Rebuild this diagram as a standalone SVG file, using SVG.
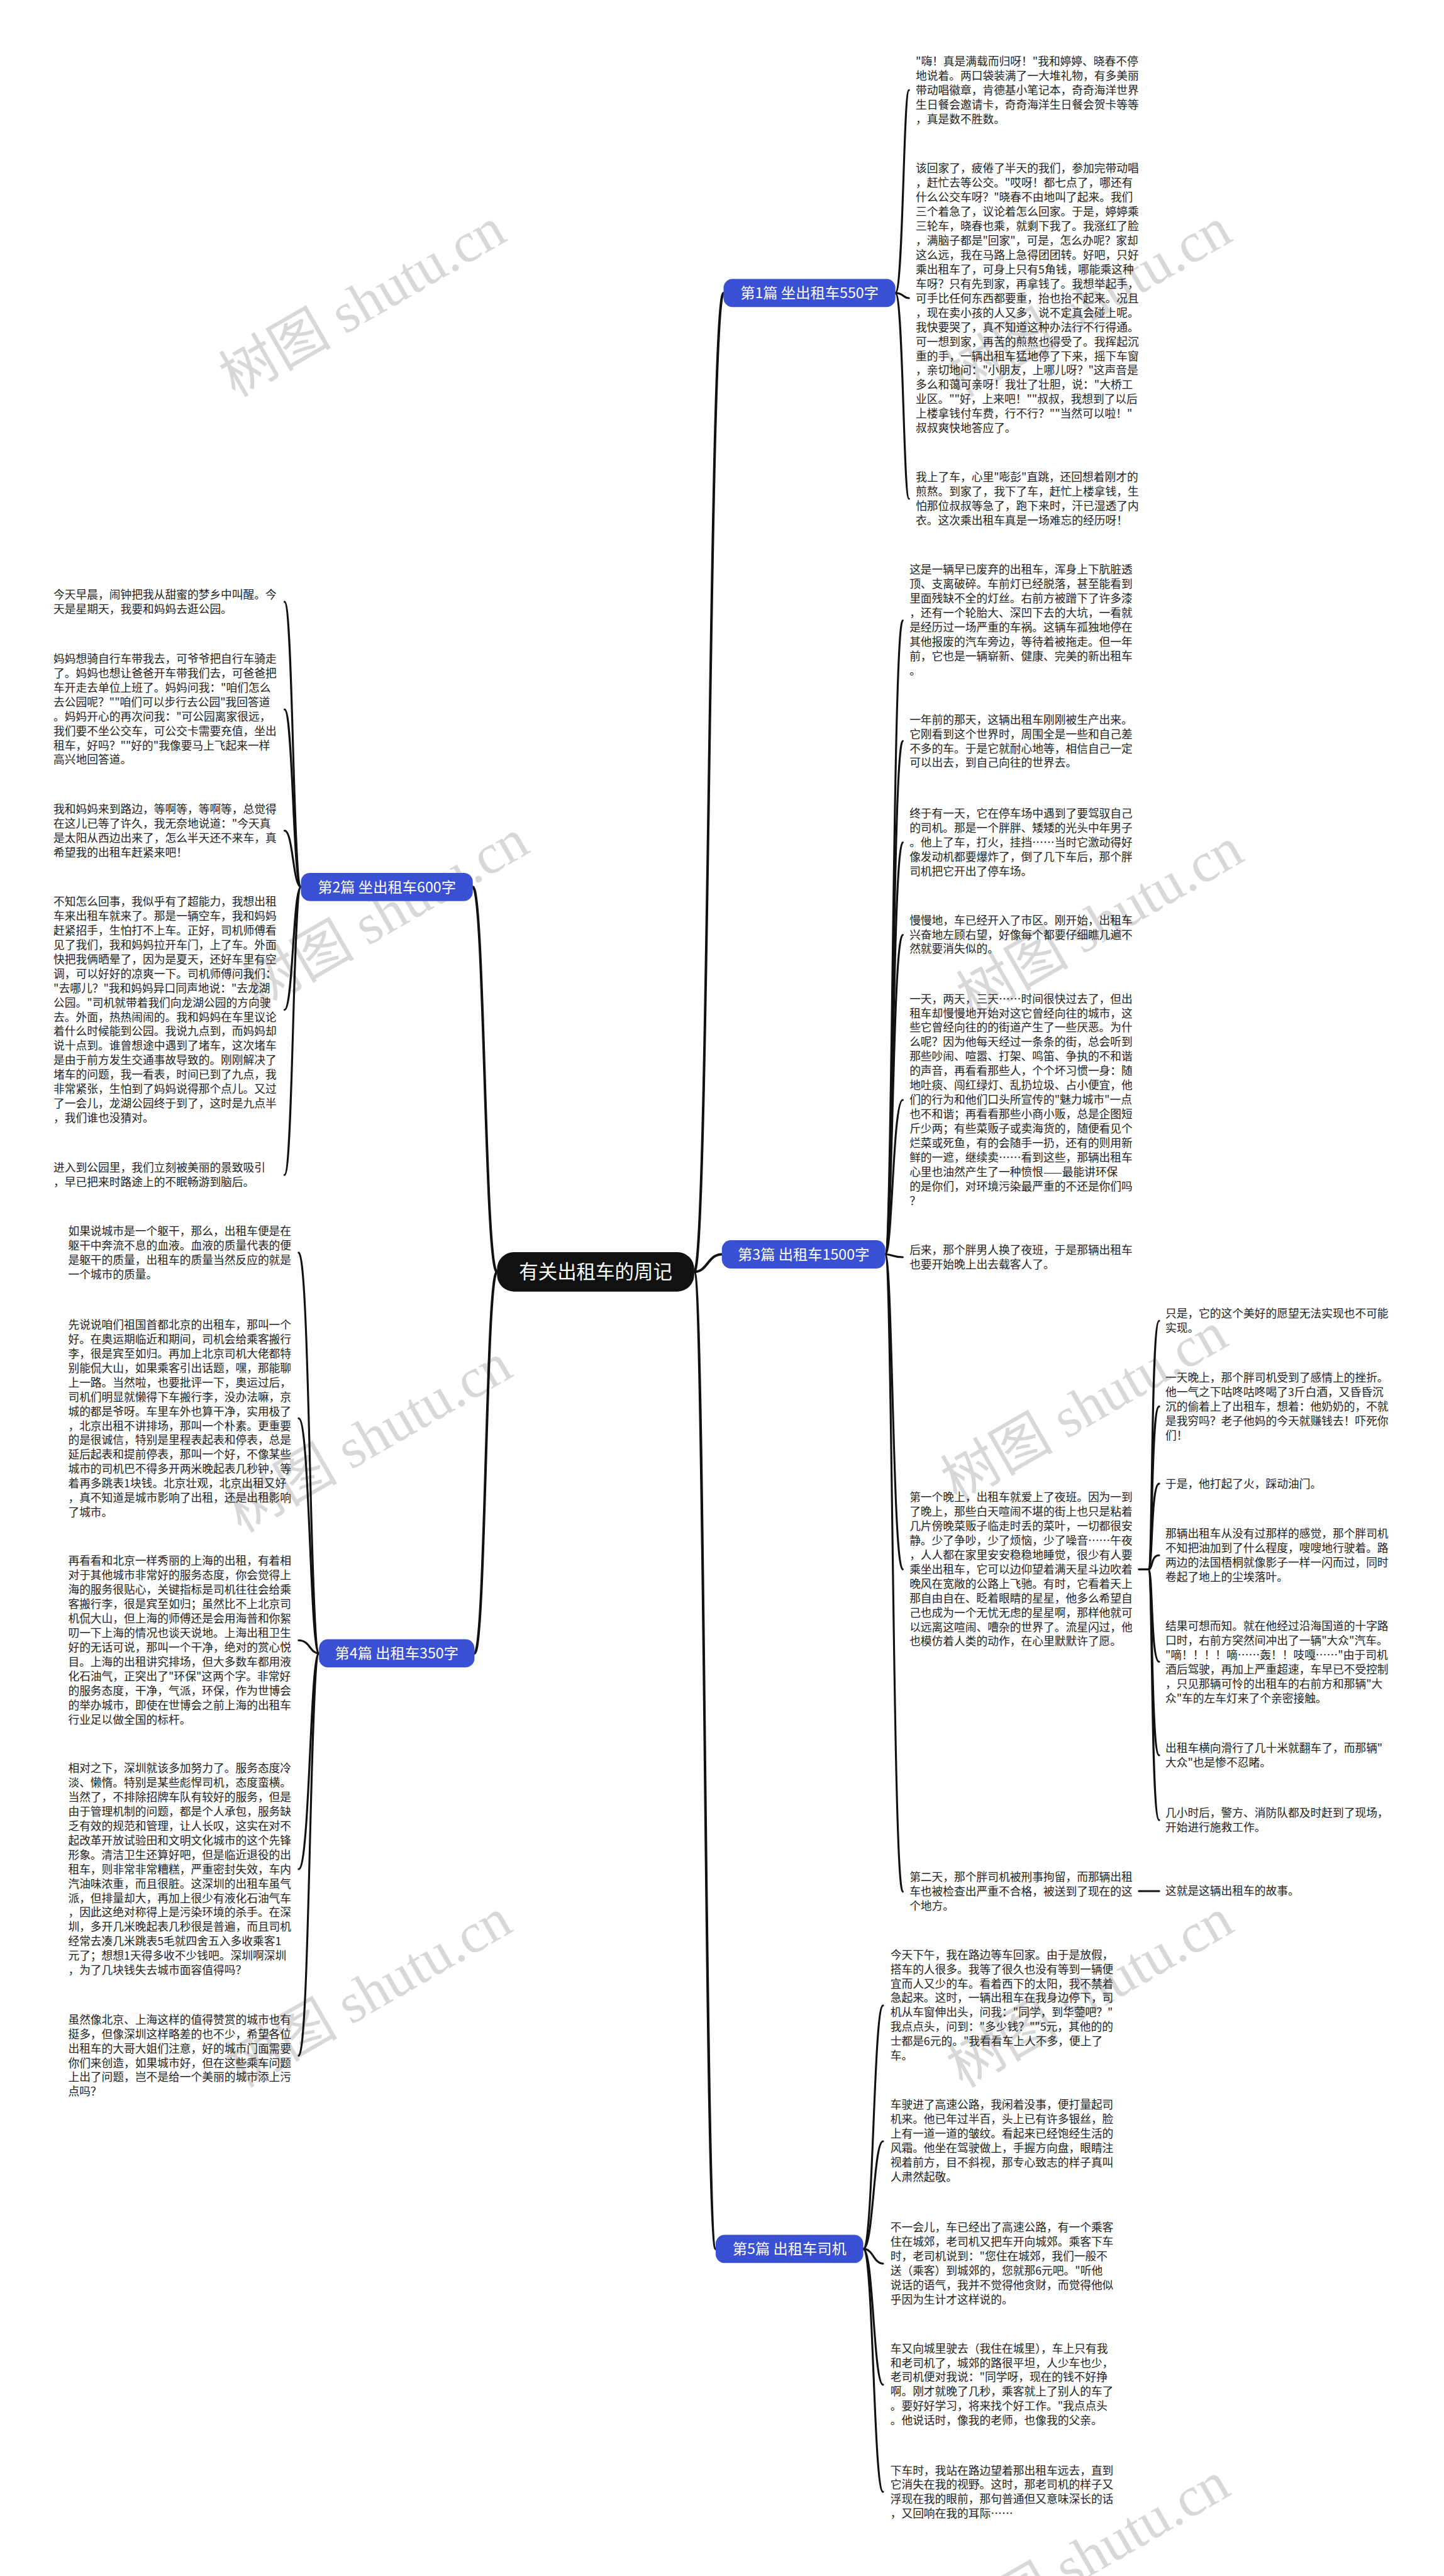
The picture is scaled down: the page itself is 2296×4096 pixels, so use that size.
<svg xmlns="http://www.w3.org/2000/svg" width="2296" height="4096" viewBox="0 0 2296 4096">
<style>
.t{font-family:"Noto Sans CJK SC","Liberation Sans",sans-serif;font-size:19.8px;fill:#222}
.c{fill:none;stroke:#111;stroke-width:3.5;stroke-linecap:round}
.m{stroke-width:4.5}
.bn{fill:#3a50d4}
.bt{font-family:"Noto Sans CJK SC","Liberation Sans",sans-serif;font-size:26px;fill:#fff;text-anchor:middle}
.ct{font-family:"Noto Sans CJK SC","Liberation Sans",sans-serif;font-size:34px;fill:#fff;text-anchor:middle}
.wm{font-family:"Liberation Serif","Noto Sans CJK SC",serif;font-size:100px;fill:#d8d8d8;text-anchor:middle}
</style>
<rect width="2296" height="4096" fill="#fff"/>
<g transform="scale(0.896)">
<g id="watermarks">
<text class="wm" x="645" y="570" transform="rotate(-30 645 540)">树图 shutu.cn</text>
<text class="wm" x="686" y="1655" transform="rotate(-30 686 1625)">树图 shutu.cn</text>
<text class="wm" x="656" y="2585" transform="rotate(-30 656 2555)">树图 shutu.cn</text>
<text class="wm" x="656" y="3570" transform="rotate(-30 656 3540)">树图 shutu.cn</text>
<text class="wm" x="1933" y="570" transform="rotate(-30 1933 540)">树图 shutu.cn</text>
<text class="wm" x="1954" y="1670" transform="rotate(-30 1954 1640)">树图 shutu.cn</text>
<text class="wm" x="1926" y="2530" transform="rotate(-30 1926 2500)">树图 shutu.cn</text>
<text class="wm" x="1936" y="3570" transform="rotate(-30 1936 3540)">树图 shutu.cn</text>
<text class="wm" x="1930" y="4570" transform="rotate(-30 1930 4540)">树图 shutu.cn</text>
</g>
<g id="connectors">
<path class="c m" d="M1232,2257 C1258,2257 1258,520 1284,520"/>
<path class="c m" d="M1232,2257 C1256,2257 1256,2226 1281,2226"/>
<path class="c m" d="M1232,2257 C1251,2257 1251,3991 1270,3991"/>
<path class="c m" d="M882,2257 C860,2257 860,1574 839,1574"/>
<path class="c m" d="M882,2257 C862,2257 862,2934 842,2934"/>
<path class="c" d="M1589,520 C1603,520 1603,160 1613,160"/>
<path class="c" d="M1589,520 C1603,520 1603,529 1613,529"/>
<path class="c" d="M1589,520 C1603,520 1603,885 1613,885"/>
<path class="c" d="M534,1574 C520,1574 520,1068 505,1068"/>
<path class="c" d="M534,1574 C520,1574 520,1259 505,1259"/>
<path class="c" d="M534,1574 C520,1574 520,1474 505,1474"/>
<path class="c" d="M534,1574 C520,1574 520,1792 505,1792"/>
<path class="c" d="M534,1574 C520,1574 520,2085 505,2085"/>
<path class="c" d="M1571,2226 C1584,2226 1584,1101 1602,1101"/>
<path class="c" d="M1571,2226 C1584,2226 1584,1315 1602,1315"/>
<path class="c" d="M1571,2226 C1584,2226 1584,1495 1602,1495"/>
<path class="c" d="M1571,2226 C1584,2226 1584,1659 1602,1659"/>
<path class="c" d="M1571,2226 C1584,2226 1584,1952 1602,1952"/>
<path class="c" d="M1571,2226 C1584,2226 1584,2231 1602,2231"/>
<path class="c" d="M1571,2226 C1584,2226 1584,2785 1602,2785"/>
<path class="c" d="M1571,2226 C1584,2226 1584,3357 1602,3357"/>
<path class="c" d="M2021,2785 L2038,2785"/>
<path class="c" d="M2038,2785 C2046,2785 2042,2344 2057,2344"/>
<path class="c" d="M2038,2785 C2046,2785 2042,2496 2057,2496"/>
<path class="c" d="M2038,2785 C2046,2785 2042,2633 2057,2633"/>
<path class="c" d="M2038,2785 C2046,2785 2042,2760 2057,2760"/>
<path class="c" d="M2038,2785 C2046,2785 2042,2949 2057,2949"/>
<path class="c" d="M2038,2785 C2046,2785 2042,3115 2057,3115"/>
<path class="c" d="M2038,2785 C2046,2785 2042,3230 2057,3230"/>
<path class="c" d="M2021,3356 L2057,3356"/>
<path class="c" d="M566,2934 C550,2934 550,2223 530,2223"/>
<path class="c" d="M566,2934 C550,2934 550,2517 530,2517"/>
<path class="c" d="M566,2934 C550,2934 550,2911 530,2911"/>
<path class="c" d="M566,2934 C550,2934 550,3317 530,3317"/>
<path class="c" d="M566,2934 C550,2934 550,3648 530,3648"/>
<path class="c" d="M1532,3991 C1550,3991 1550,3559 1567,3559"/>
<path class="c" d="M1532,3991 C1550,3991 1550,3800 1567,3800"/>
<path class="c" d="M1532,3991 C1550,3991 1550,4017 1567,4017"/>
<path class="c" d="M1532,3991 C1550,3991 1550,4232 1567,4232"/>
<path class="c" d="M1532,3991 C1550,3991 1550,4422 1567,4422"/>
</g>
<g id="center">
<rect x="882" y="2222" width="350" height="70" rx="30" fill="#111"/>
<text class="ct" x="1057" y="2269">有关出租车的周记</text>
</g>
<g id="b1"><rect class="bn" x="1284" y="495" width="305" height="50" rx="16"/><text class="bt" x="1436.5" y="529.5">第1篇 坐出租车550字</text></g>
<g id="b2"><rect class="bn" x="534" y="1549" width="305" height="50" rx="16"/><text class="bt" x="686.5" y="1583.5">第2篇 坐出租车600字</text></g>
<g id="b3"><rect class="bn" x="1281" y="2201" width="290" height="50" rx="16"/><text class="bt" x="1426" y="2235.5">第3篇 出租车1500字</text></g>
<g id="b4"><rect class="bn" x="566" y="2909" width="276" height="50" rx="16"/><text class="bt" x="704" y="2943.5">第4篇 出租车350字</text></g>
<g id="b5"><rect class="bn" x="1270" y="3966" width="262" height="50" rx="16"/><text class="bt" x="1401" y="4000.5">第5篇 出租车司机</text></g>

<g id="b1a"><text class="t" x="1625" y="116.2"><tspan x="1625">"嗨！真是满载而归呀！"我和婷婷、晓春不停</tspan><tspan x="1625" dy="25.6">地说着。两口袋装满了一大堆礼物，有多美丽</tspan><tspan x="1625" dy="25.6">带动唱徽章，肯德基小笔记本，奇奇海洋世界</tspan><tspan x="1625" dy="25.6">生日餐会邀请卡，奇奇海洋生日餐会贺卡等等</tspan><tspan x="1625" dy="25.6">，真是数不胜数。</tspan></text></g>
<g id="b1b"><text class="t" x="1625" y="306.2"><tspan x="1625">该回家了，疲倦了半天的我们，参加完带动唱</tspan><tspan x="1625" dy="25.6">，赶忙去等公交。"哎呀！都七点了，哪还有</tspan><tspan x="1625" dy="25.6">什么公交车呀？"晓春不由地叫了起来。我们</tspan><tspan x="1625" dy="25.6">三个着急了，议论着怎么回家。于是，婷婷乘</tspan><tspan x="1625" dy="25.6">三轮车，晓春也乘，就剩下我了。我涨红了脸</tspan><tspan x="1625" dy="25.6">，满脑子都是"回家"，可是，怎么办呢？家却</tspan><tspan x="1625" dy="25.6">这么远，我在马路上急得团团转。好吧，只好</tspan><tspan x="1625" dy="25.6">乘出租车了，可身上只有5角钱，哪能乘这种</tspan><tspan x="1625" dy="25.6">车呀？只有先到家，再拿钱了。我想举起手，</tspan><tspan x="1625" dy="25.6">可手比任何东西都要重，抬也抬不起来。况且</tspan><tspan x="1625" dy="25.6">，现在卖小孩的人又多，说不定真会碰上呢。</tspan><tspan x="1625" dy="25.6">我快要哭了，真不知道这种办法行不行得通。</tspan><tspan x="1625" dy="25.6">可一想到家，再苦的煎熬也得受了。我挥起沉</tspan><tspan x="1625" dy="25.6">重的手，一辆出租车猛地停了下来，摇下车窗</tspan><tspan x="1625" dy="25.6">，亲切地问："小朋友，上哪儿呀？"这声音是</tspan><tspan x="1625" dy="25.6">多么和蔼可亲呀！我壮了壮胆，说："大桥工</tspan><tspan x="1625" dy="25.6">业区。""好，上来吧！""叔叔，我想到了以后</tspan><tspan x="1625" dy="25.6">上楼拿钱付车费，行不行？""当然可以啦！"</tspan><tspan x="1625" dy="25.6">叔叔爽快地答应了。</tspan></text></g>
<g id="b1c"><text class="t" x="1625" y="854.2"><tspan x="1625">我上了车，心里"嘭彭"直跳，还回想着刚才的</tspan><tspan x="1625" dy="25.6">煎熬。到家了，我下了车，赶忙上楼拿钱，生</tspan><tspan x="1625" dy="25.6">怕那位叔叔等急了，跑下来时，汗已湿透了内</tspan><tspan x="1625" dy="25.6">衣。这次乘出租车真是一场难忘的经历呀！</tspan></text></g>

<g id="b2a"><text class="t" x="95" y="1062.2"><tspan x="95">今天早晨，闹钟把我从甜蜜的梦乡中叫醒。今</tspan><tspan x="95" dy="25.6">天是星期天，我要和妈妈去逛公园。</tspan></text></g>
<g id="b2b"><text class="t" x="95" y="1176.2"><tspan x="95">妈妈想骑自行车带我去，可爷爷把自行车骑走</tspan><tspan x="95" dy="25.6">了。妈妈也想让爸爸开车带我们去，可爸爸把</tspan><tspan x="95" dy="25.6">车开走去单位上班了。妈妈问我："咱们怎么</tspan><tspan x="95" dy="25.6">去公园呢？""咱们可以步行去公园"我回答道</tspan><tspan x="95" dy="25.6">。妈妈开心的再次问我："可公园离家很远，</tspan><tspan x="95" dy="25.6">我们要不坐公交车，可公交卡需要充值，坐出</tspan><tspan x="95" dy="25.6">租车，好吗？""好的"我像要马上飞起来一样</tspan><tspan x="95" dy="25.6">高兴地回答道。</tspan></text></g>
<g id="b2c"><text class="t" x="95" y="1443.2"><tspan x="95">我和妈妈来到路边，等啊等，等啊等，总觉得</tspan><tspan x="95" dy="25.6">在这儿已等了许久，我无奈地说道："今天真</tspan><tspan x="95" dy="25.6">是太阳从西边出来了，怎么半天还不来车，真</tspan><tspan x="95" dy="25.6">希望我的出租车赶紧来吧！</tspan></text></g>
<g id="b2d"><text class="t" x="95" y="1607.2"><tspan x="95">不知怎么回事，我似乎有了超能力，我想出租</tspan><tspan x="95" dy="25.6">车来出租车就来了。那是一辆空车，我和妈妈</tspan><tspan x="95" dy="25.6">赶紧招手，生怕打不上车。正好，司机师傅看</tspan><tspan x="95" dy="25.6">见了我们，我和妈妈拉开车门，上了车。外面</tspan><tspan x="95" dy="25.6">快把我俩晒晕了，因为是夏天，还好车里有空</tspan><tspan x="95" dy="25.6">调，可以好好的凉爽一下。司机师傅问我们：</tspan><tspan x="95" dy="25.6">"去哪儿？"我和妈妈异口同声地说："去龙湖</tspan><tspan x="95" dy="25.6">公园。"司机就带着我们向龙湖公园的方向驶</tspan><tspan x="95" dy="25.6">去。外面，热热闹闹的。我和妈妈在车里议论</tspan><tspan x="95" dy="25.6">着什么时候能到公园。我说九点到，而妈妈却</tspan><tspan x="95" dy="25.6">说十点到。谁曾想途中遇到了堵车，这次堵车</tspan><tspan x="95" dy="25.6">是由于前方发生交通事故导致的。刚刚解决了</tspan><tspan x="95" dy="25.6">堵车的问题，我一看表，时间已到了九点，我</tspan><tspan x="95" dy="25.6">非常紧张，生怕到了妈妈说得那个点儿。又过</tspan><tspan x="95" dy="25.6">了一会儿，龙湖公园终于到了，这时是九点半</tspan><tspan x="95" dy="25.6">，我们谁也没猜对。</tspan></text></g>
<g id="b2e"><text class="t" x="95" y="2079.2"><tspan x="95">进入到公园里，我们立刻被美丽的景致吸引</tspan><tspan x="95" dy="25.6">，早已把来时路途上的不眠畅游到脑后。</tspan></text></g>

<g id="b3a"><text class="t" x="1614" y="1018.2"><tspan x="1614">这是一辆早已废弃的出租车，浑身上下肮脏透</tspan><tspan x="1614" dy="25.6">顶、支离破碎。车前灯已经脱落，甚至能看到</tspan><tspan x="1614" dy="25.6">里面残缺不全的灯丝。右前方被蹭下了许多漆</tspan><tspan x="1614" dy="25.6">，还有一个轮胎大、深凹下去的大坑，一看就</tspan><tspan x="1614" dy="25.6">是经历过一场严重的车祸。这辆车孤独地停在</tspan><tspan x="1614" dy="25.6">其他报废的汽车旁边，等待着被拖走。但一年</tspan><tspan x="1614" dy="25.6">前，它也是一辆崭新、健康、完美的新出租车</tspan><tspan x="1614" dy="25.6">。</tspan></text></g>
<g id="b3b"><text class="t" x="1614" y="1284.2"><tspan x="1614">一年前的那天，这辆出租车刚刚被生产出来。</tspan><tspan x="1614" dy="25.6">它刚看到这个世界时，周围全是一些和自己差</tspan><tspan x="1614" dy="25.6">不多的车。于是它就耐心地等，相信自己一定</tspan><tspan x="1614" dy="25.6">可以出去，到自己向往的世界去。</tspan></text></g>
<g id="b3c"><text class="t" x="1614" y="1450.7"><tspan x="1614">终于有一天，它在停车场中遇到了要驾驭自己</tspan><tspan x="1614" dy="25.6">的司机。那是一个胖胖、矮矮的光头中年男子</tspan><tspan x="1614" dy="25.6">。他上了车，打火，挂挡……当时它激动得好</tspan><tspan x="1614" dy="25.6">像发动机都要爆炸了，倒了几下车后，那个胖</tspan><tspan x="1614" dy="25.6">司机把它开出了停车场。</tspan></text></g>
<g id="b3d"><text class="t" x="1614" y="1640.2"><tspan x="1614">慢慢地，车已经开入了市区。刚开始，出租车</tspan><tspan x="1614" dy="25.6">兴奋地左顾右望，好像每个都要仔细瞧几遍不</tspan><tspan x="1614" dy="25.6">然就要消失似的。</tspan></text></g>
<g id="b3e"><text class="t" x="1614" y="1779.7"><tspan x="1614">一天，两天，三天……时间很快过去了，但出</tspan><tspan x="1614" dy="25.6">租车却慢慢地开始对这它曾经向往的城市，这</tspan><tspan x="1614" dy="25.6">些它曾经向往的的街道产生了一些厌恶。为什</tspan><tspan x="1614" dy="25.6">么呢？因为他每天经过一条条的街，总会听到</tspan><tspan x="1614" dy="25.6">那些吵闹、喧嚣、打架、鸣笛、争执的不和谐</tspan><tspan x="1614" dy="25.6">的声音，再看看那些人，个个坏习惯一身：随</tspan><tspan x="1614" dy="25.6">地吐痰、闯红绿灯、乱扔垃圾、占小便宜，他</tspan><tspan x="1614" dy="25.6">们的行为和他们口头所宣传的"魅力城市"一点</tspan><tspan x="1614" dy="25.6">也不和谐；再看看那些小商小贩，总是企图短</tspan><tspan x="1614" dy="25.6">斤少两；有些菜贩子或卖海货的，随便看见个</tspan><tspan x="1614" dy="25.6">烂菜或死鱼，有的会随手一扔，还有的则用新</tspan><tspan x="1614" dy="25.6">鲜的一遮，继续卖……看到这些，那辆出租车</tspan><tspan x="1614" dy="25.6">心里也油然产生了一种愤恨——最能讲环保</tspan><tspan x="1614" dy="25.6">的是你们，对环境污染最严重的不还是你们吗</tspan><tspan x="1614" dy="25.6">？</tspan></text></g>
<g id="b3f"><text class="t" x="1614" y="2225.2"><tspan x="1614">后来，那个胖男人换了夜班，于是那辆出租车</tspan><tspan x="1614" dy="25.6">也要开始晚上出去载客人了。</tspan></text></g>
<g id="b3g"><text class="t" x="1614" y="2664.2"><tspan x="1614">第一个晚上，出租车就爱上了夜班。因为一到</tspan><tspan x="1614" dy="25.6">了晚上，那些白天喧闹不堪的街上也只是粘着</tspan><tspan x="1614" dy="25.6">几片傍晚菜贩子临走时丢的菜叶，一切都很安</tspan><tspan x="1614" dy="25.6">静。少了争吵，少了烦恼，少了噪音……午夜</tspan><tspan x="1614" dy="25.6">，人人都在家里安安稳稳地睡觉，很少有人要</tspan><tspan x="1614" dy="25.6">乘坐出租车，它可以边仰望着满天星斗边吹着</tspan><tspan x="1614" dy="25.6">晚风在宽敞的公路上飞驰。有时，它看着天上</tspan><tspan x="1614" dy="25.6">那自由自在、眨着眼睛的星星，他多么希望自</tspan><tspan x="1614" dy="25.6">己也成为一个无忧无虑的星星啊，那样他就可</tspan><tspan x="1614" dy="25.6">以远离这喧闹、嘈杂的世界了。流星闪过，他</tspan><tspan x="1614" dy="25.6">也模仿着人类的动作，在心里默默许了愿。</tspan></text></g>
<g id="b3h"><text class="t" x="1614" y="3338.2"><tspan x="1614">第二天，那个胖司机被刑事拘留，而那辆出租</tspan><tspan x="1614" dy="25.6">车也被检查出严重不合格，被送到了现在的这</tspan><tspan x="1614" dy="25.6">个地方。</tspan></text></g>

<g id="s1"><text class="t" x="2068" y="2338.2"><tspan x="2068">只是，它的这个美好的愿望无法实现也不可能</tspan><tspan x="2068" dy="25.6">实现。</tspan></text></g>
<g id="s2"><text class="t" x="2068" y="2452.2"><tspan x="2068">一天晚上，那个胖司机受到了感情上的挫折。</tspan><tspan x="2068" dy="25.6">他一气之下咕咚咕咚喝了3斤白酒，又昏昏沉</tspan><tspan x="2068" dy="25.6">沉的偷着上了出租车，想着：他奶奶的，不就</tspan><tspan x="2068" dy="25.6">是我穷吗？老子他妈的今天就赚钱去！吓死你</tspan><tspan x="2068" dy="25.6">们！</tspan></text></g>
<g id="s3"><text class="t" x="2068" y="2640.2">于是，他打起了火，踩动油门。</text></g>
<g id="s4"><text class="t" x="2068" y="2729.2"><tspan x="2068">那辆出租车从没有过那样的感觉，那个胖司机</tspan><tspan x="2068" dy="25.6">不知把油加到了什么程度，嗖嗖地行驶着。路</tspan><tspan x="2068" dy="25.6">两边的法国梧桐就像影子一样一闪而过，同时</tspan><tspan x="2068" dy="25.6">卷起了地上的尘埃落叶。</tspan></text></g>
<g id="s5"><text class="t" x="2068" y="2892.7"><tspan x="2068">结果可想而知。就在他经过沿海国道的十字路</tspan><tspan x="2068" dy="25.6">口时，右前方突然间冲出了一辆"大众"汽车。</tspan><tspan x="2068" dy="25.6">"嘀！！！！嘀……轰！！吱嘎……"由于司机</tspan><tspan x="2068" dy="25.6">酒后驾驶，再加上严重超速，车早已不受控制</tspan><tspan x="2068" dy="25.6">，只见那辆可怜的出租车的右前方和那辆"大</tspan><tspan x="2068" dy="25.6">众"车的左车灯来了个亲密接触。</tspan></text></g>
<g id="s6"><text class="t" x="2068" y="3109.2"><tspan x="2068">出租车横向滑行了几十米就翻车了，而那辆"</tspan><tspan x="2068" dy="25.6">大众"也是惨不忍睹。</tspan></text></g>
<g id="s7"><text class="t" x="2068" y="3224.2"><tspan x="2068">几小时后，警方、消防队都及时赶到了现场，</tspan><tspan x="2068" dy="25.6">开始进行施救工作。</tspan></text></g>
<g id="s8"><text class="t" x="2068" y="3363.2">这就是这辆出租车的故事。</text></g>

<g id="b4a"><text class="t" x="121" y="2192.2"><tspan x="121">如果说城市是一个躯干，那么，出租车便是在</tspan><tspan x="121" dy="25.6">躯干中奔流不息的血液。血液的质量代表的便</tspan><tspan x="121" dy="25.6">是躯干的质量，出租车的质量当然反应的就是</tspan><tspan x="121" dy="25.6">一个城市的质量。</tspan></text></g>
<g id="b4b"><text class="t" x="121" y="2358.2"><tspan x="121">先说说咱们祖国首都北京的出租车，那叫一个</tspan><tspan x="121" dy="25.6">好。在奥运期临近和期间，司机会给乘客搬行</tspan><tspan x="121" dy="25.6">李，很是宾至如归。再加上北京司机大佬都特</tspan><tspan x="121" dy="25.6">别能侃大山，如果乘客引出话题，嘿，那能聊</tspan><tspan x="121" dy="25.6">上一路。当然啦，也要批评一下，奥运过后，</tspan><tspan x="121" dy="25.6">司机们明显就懒得下车搬行李，没办法嘛，京</tspan><tspan x="121" dy="25.6">城的都是爷呀。车里车外也算干净，实用极了</tspan><tspan x="121" dy="25.6">，北京出租不讲排场，那叫一个朴素。更重要</tspan><tspan x="121" dy="25.6">的是很诚信，特别是里程表起表和停表，总是</tspan><tspan x="121" dy="25.6">延后起表和提前停表，那叫一个好，不像某些</tspan><tspan x="121" dy="25.6">城市的司机巴不得多开两米晚起表几秒钟，等</tspan><tspan x="121" dy="25.6">着再多跳表1块钱。北京壮观，北京出租又好</tspan><tspan x="121" dy="25.6">，真不知道是城市影响了出租，还是出租影响</tspan><tspan x="121" dy="25.6">了城市。</tspan></text></g>
<g id="b4c"><text class="t" x="121" y="2777.2"><tspan x="121">再看看和北京一样秀丽的上海的出租，有着相</tspan><tspan x="121" dy="25.6">对于其他城市非常好的服务态度，你会觉得上</tspan><tspan x="121" dy="25.6">海的服务很贴心，关键指标是司机往往会给乘</tspan><tspan x="121" dy="25.6">客搬行李，很是宾至如归；虽然比不上北京司</tspan><tspan x="121" dy="25.6">机侃大山，但上海的师傅还是会用海普和你絮</tspan><tspan x="121" dy="25.6">叨一下上海的情况也谈天说地。上海出租卫生</tspan><tspan x="121" dy="25.6">好的无话可说，那叫一个干净，绝对的赏心悦</tspan><tspan x="121" dy="25.6">目。上海的出租讲究排场，但大多数车都用液</tspan><tspan x="121" dy="25.6">化石油气，正突出了"环保"这两个字。非常好</tspan><tspan x="121" dy="25.6">的服务态度，干净，气派，环保，作为世博会</tspan><tspan x="121" dy="25.6">的举办城市，即使在世博会之前上海的出租车</tspan><tspan x="121" dy="25.6">行业足以做全国的标杆。</tspan></text></g>
<g id="b4d"><text class="t" x="121" y="3145.2"><tspan x="121">相对之下，深圳就该多加努力了。服务态度冷</tspan><tspan x="121" dy="25.6">淡、懒惰。特别是某些彪悍司机，态度蛮横。</tspan><tspan x="121" dy="25.6">当然了，不排除招牌车队有较好的服务，但是</tspan><tspan x="121" dy="25.6">由于管理机制的问题，都是个人承包，服务缺</tspan><tspan x="121" dy="25.6">乏有效的规范和管理，让人长叹，这实在对不</tspan><tspan x="121" dy="25.6">起改革开放试验田和文明文化城市的这个先锋</tspan><tspan x="121" dy="25.6">形象。清洁卫生还算好吧，但是临近退役的出</tspan><tspan x="121" dy="25.6">租车，则非常非常糟糕，严重密封失效，车内</tspan><tspan x="121" dy="25.6">汽油味浓重，而且很脏。这深圳的出租车虽气</tspan><tspan x="121" dy="25.6">派，但排量却大，再加上很少有液化石油气车</tspan><tspan x="121" dy="25.6">，因此这绝对称得上是污染环境的杀手。在深</tspan><tspan x="121" dy="25.6">圳，多开几米晚起表几秒很是普遍，而且司机</tspan><tspan x="121" dy="25.6">经常去凑几米跳表5毛就四舍五入多收乘客1</tspan><tspan x="121" dy="25.6">元了；想想1天得多收不少钱吧。深圳啊深圳</tspan><tspan x="121" dy="25.6">，为了几块钱失去城市面容值得吗？</tspan></text></g>
<g id="b4e"><text class="t" x="121" y="3591.2"><tspan x="121">虽然像北京、上海这样的值得赞赏的城市也有</tspan><tspan x="121" dy="25.6">挺多，但像深圳这样略差的也不少，希望各位</tspan><tspan x="121" dy="25.6">出租车的大哥大姐们注意，好的城市门面需要</tspan><tspan x="121" dy="25.6">你们来创造，如果城市好，但在这些乘车问题</tspan><tspan x="121" dy="25.6">上出了问题，岂不是给一个美丽的城市添上污</tspan><tspan x="121" dy="25.6">点吗？</tspan></text></g>

<g id="b5a"><text class="t" x="1580" y="3476.2"><tspan x="1580">今天下午，我在路边等车回家。由于是放假，</tspan><tspan x="1580" dy="25.6">搭车的人很多。我等了很久也没有等到一辆便</tspan><tspan x="1580" dy="25.6">宜而人又少的车。看着西下的太阳，我不禁着</tspan><tspan x="1580" dy="25.6">急起来。这时，一辆出租车在我身边停下，司</tspan><tspan x="1580" dy="25.6">机从车窗伸出头，问我："同学，到华蓥吧？"</tspan><tspan x="1580" dy="25.6">我点点头，问到："多少钱？""5元，其他的的</tspan><tspan x="1580" dy="25.6">士都是6元的。"我看看车上人不多，便上了</tspan><tspan x="1580" dy="25.6">车。</tspan></text></g>
<g id="b5b"><text class="t" x="1580" y="3742.7"><tspan x="1580">车驶进了高速公路，我闲着没事，便打量起司</tspan><tspan x="1580" dy="25.6">机来。他已年过半百，头上已有许多银丝，脸</tspan><tspan x="1580" dy="25.6">上有一道一道的皱纹。看起来已经饱经生活的</tspan><tspan x="1580" dy="25.6">风霜。他坐在驾驶做上，手握方向盘，眼睛注</tspan><tspan x="1580" dy="25.6">视着前方，目不斜视，那专心致志的样子真叫</tspan><tspan x="1580" dy="25.6">人肃然起敬。</tspan></text></g>
<g id="b5c"><text class="t" x="1580" y="3960.2"><tspan x="1580">不一会儿，车已经出了高速公路，有一个乘客</tspan><tspan x="1580" dy="25.6">住在城郊，老司机又把车开向城郊。乘客下车</tspan><tspan x="1580" dy="25.6">时，老司机说到："您住在城郊，我们一般不</tspan><tspan x="1580" dy="25.6">送（乘客）到城郊的，您就那6元吧。"听他</tspan><tspan x="1580" dy="25.6">说话的语气，我并不觉得他贪财，而觉得他似</tspan><tspan x="1580" dy="25.6">乎因为生计才这样说的。</tspan></text></g>
<g id="b5d"><text class="t" x="1580" y="4174.8"><tspan x="1580">车又向城里驶去（我住在城里），车上只有我</tspan><tspan x="1580" dy="25.6">和老司机了，城郊的路很平坦，人少车也少，</tspan><tspan x="1580" dy="25.6">老司机便对我说："同学呀，现在的钱不好挣</tspan><tspan x="1580" dy="25.6">啊。刚才就晚了几秒，乘客就上了别人的车了</tspan><tspan x="1580" dy="25.6">。要好好学习，将来找个好工作。"我点点头</tspan><tspan x="1580" dy="25.6">。他说话时，像我的老师，也像我的父亲。</tspan></text></g>
<g id="b5e"><text class="t" x="1580" y="4391.2"><tspan x="1580">下车时，我站在路边望着那出租车远去，直到</tspan><tspan x="1580" dy="25.6">它消失在我的视野。这时，那老司机的样子又</tspan><tspan x="1580" dy="25.6">浮现在我的眼前，那句普通但又意味深长的话</tspan><tspan x="1580" dy="25.6">，又回响在我的耳际……</tspan></text></g>
</g>
</svg>
